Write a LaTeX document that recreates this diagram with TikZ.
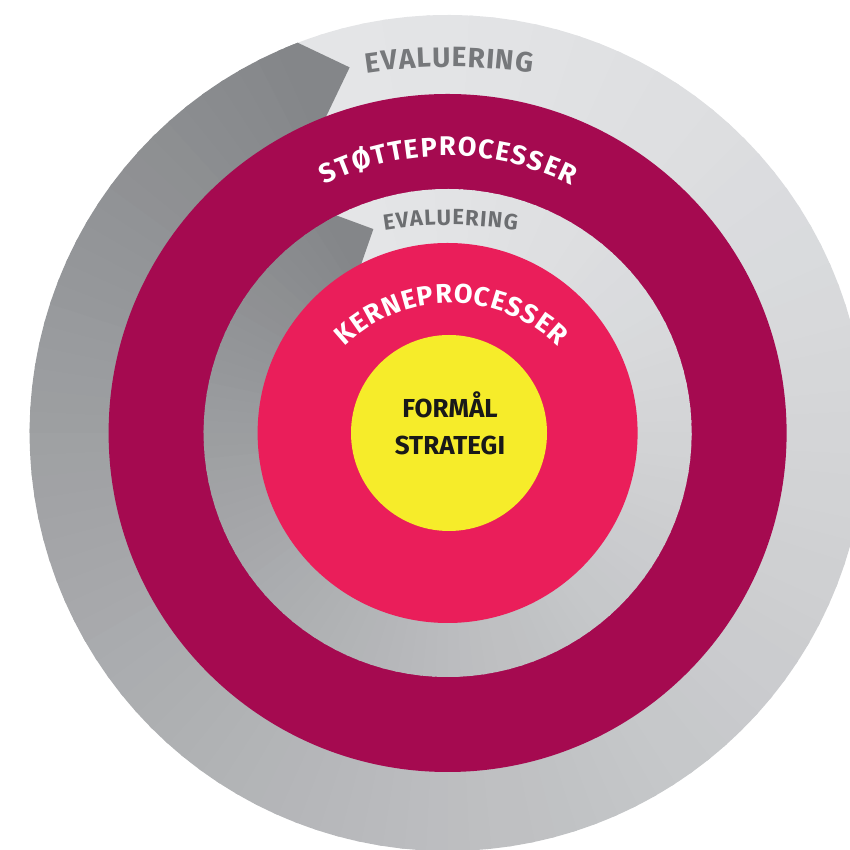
\documentclass[tikz,border=0pt]{standalone}
\usepackage{fontspec}
\setmainfont{Fira Sans}
\usetikzlibrary{decorations.text,calc}

\definecolor{ringlight}{HTML}{E4E5E7}
\definecolor{ringdark}{HTML}{848689}
\definecolor{stotte}{HTML}{A50A50}
\definecolor{kerne}{HTML}{EA1E5A}
\definecolor{formaal}{HTML}{F6EC2A}
\definecolor{evaltext}{HTML}{76787B}
\definecolor{evalinner}{HTML}{6C6E71}

% #1 outer radius, #2 inner radius, #3 angle of the arrow head's back edge, #4 angle of its tip
\newcommand\evalring[4]{%
  \foreach \i in {0,...,119}{%
    \pgfmathsetmacro\sa{#3-3*\i}%
    \pgfmathsetmacro\ea{(\i<119) ? (\sa-3.6) : (\sa-3)}%
    \pgfmathtruncatemacro\pc{round(100*(\i/119)^1.5)}%
    \colorlet{segcol}{ringdark!\pc!ringlight}%
    \fill[color=segcol] (c) -- ($(c)+(\sa:#1)$) arc[start angle=\sa, end angle=\ea, radius=#1] -- cycle;
  }%
  \pgfmathsetmacro\midr{(#1+#2)/2}%
  \pgfmathsetmacro\backa{#3+2}%
  \fill[ringdark] ($(c)+(\backa:#1)$) arc[start angle=\backa, end angle=#3, radius=#1]
    -- ($(c)+(#4:\midr pt)$) -- ($(c)+(#3:#2)$) arc[start angle=#3, end angle=\backa, radius=#2] -- cycle;
}

\tikzset{
  ringlabel/.style={decorate, decoration={text along path, text align=center}},
}

\begin{document}
\begin{tikzpicture}[x=1pt,y=1pt]
  \useasboundingbox (0,0) rectangle (850,850);
  \clip (0,0) rectangle (850,850);
  \coordinate (c) at (447.6,417);

  % outer evaluation ring with its arrow head
  \evalring{418pt}{339pt}{111}{105}
  % support processes
  \fill[stotte] (c) circle[radius=339pt];
  % inner evaluation ring with its arrow head
  \evalring{244pt}{190pt}{117}{110}
  % core processes
  \fill[kerne] (c) circle[radius=190pt];
  % purpose and strategy
  \fill[formaal] (449,417) circle[radius=98pt];

  % curved labels (the leading kern in each format spaces the letters apart)
  \coordinate (evo) at (449,233);
  \path[ringlabel, decoration={text={|\fontsize{28}{30}\selectfont\bfseries\color{evaltext}\kern1pt|EVALUERING}}]
    ($(evo)+(120:550pt)$) arc[start angle=120, end angle=60, radius=550pt];

  \path[ringlabel, decoration={text={|\fontsize{27}{30}\selectfont\bfseries\color{white}\kern1.5pt|STØTTEPROCESSER}}]
    ($(c)+(170:277pt)$) arc[start angle=170, end angle=10, radius=277pt];

  \coordinate (evi) at (450,205);
  \path[ringlabel, decoration={text={|\fontsize{22}{24}\selectfont\bfseries\color{evalinner}\kern1.1pt|EVALUERING}}]
    ($(evi)+(120:420pt)$) arc[start angle=120, end angle=60, radius=420pt];

  \coordinate (ker) at (451,395);
  \path[ringlabel, decoration={text={|\fontsize{27}{30}\selectfont\bfseries\color{white}\kern1pt|KERNEPROCESSER}}]
    ($(ker)+(170:152pt)$) arc[start angle=170, end angle=10, radius=152pt];

  \node[align=center, font=\fontsize{26}{37}\selectfont\bfseries, text=black!90] (strategy) at (450,427)
    {FORMÅL\\STRATEGI};
\end{tikzpicture}
\end{document}
